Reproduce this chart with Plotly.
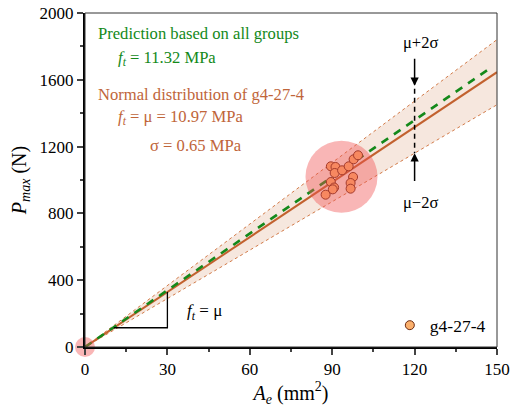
import numpy as np
import plotly.graph_objects as go

# ---------------- data ----------------
group_name = "g4-27-4"
Ae = [89.5, 91.2, 90.9, 93.6, 96.0, 97.8, 99.4, 97.6, 89.5, 96.7, 90.7, 90.2, 96.7, 87.6]
Pmax = [1082, 1078, 1042, 1058, 1082, 1124, 1148, 1018, 988, 982, 955, 944, 948, 912]
ft_all = 11.32   # MPa, prediction from all groups
mu = 10.97       # MPa
sigma = 0.65     # MPa
x_ticks = [0, 30, 60, 90, 120, 150]
y_ticks = [0, 400, 800, 1200, 1600, 2000]

FONT = "Liberation Serif, serif"
BROWN = "#C2612E"
BROWN_TXT = "#C0653A"
GREEN = "#14891A"

xs = np.linspace(0, 150, 151)
xs_g = np.linspace(0, 147, 148)
up = mu + 2 * sigma
lo = mu - 2 * sigma

fig = go.Figure()

# band
fig.add_trace(go.Scatter(x=xs, y=lo * xs, mode="lines",
                         line=dict(color="#D27A48", width=1, dash="3px,3px"),
                         showlegend=False, hoverinfo="skip"))
fig.add_trace(go.Scatter(x=xs, y=up * xs, mode="lines",
                         line=dict(color="#D27A48", width=1, dash="3px,3px"),
                         fill="tonexty", fillcolor="rgba(228,185,160,0.35)",
                         showlegend=False, hoverinfo="skip"))
# mean line
fig.add_trace(go.Scatter(x=xs, y=mu * xs, mode="lines",
                         line=dict(color=BROWN, width=2),
                         showlegend=False, hoverinfo="skip"))
# green prediction
fig.add_trace(go.Scatter(x=xs_g, y=ft_all * xs_g, mode="lines",
                         line=dict(color=GREEN, width=2.6, dash="8px,7px"),
                         showlegend=False, hoverinfo="skip"))

# slope triangle
tx0, tx1 = 10.5, 30
fig.add_trace(go.Scatter(x=[tx0, tx1, tx1], y=[mu * tx0, mu * tx0, mu * tx1],
                         mode="lines", line=dict(color="black", width=1.3),
                         showlegend=False, hoverinfo="skip"))

# data points
fig.add_trace(go.Scatter(x=Ae, y=Pmax, mode="markers", name=group_name,
                         marker=dict(size=9, color="#FBB06C",
                                     line=dict(color="#6E2A10", width=1))))

# highlight circles
fig.add_trace(go.Scatter(x=[float(np.mean(Ae))], y=[float(np.mean(Pmax)) - 6], mode="markers",
                         marker=dict(size=72, color="rgba(240,80,80,0.42)", line=dict(width=0)),
                         showlegend=False, hoverinfo="skip"))
fig.add_trace(go.Scatter(x=[0], y=[0], mode="markers", cliponaxis=False,
                         marker=dict(size=20, color="rgba(240,80,80,0.42)", line=dict(width=0)),
                         showlegend=False, hoverinfo="skip"))

# vertical dashed marker at x=120
xa = 120
fig.add_trace(go.Scatter(x=[xa, xa], y=[1600, lo * xa], mode="lines",
                         line=dict(color="black", width=1.5, dash="5px,4px"),
                         showlegend=False, hoverinfo="skip"))

ann = []
ann.append(dict(x=xa, y=1565, ax=xa, ay=1735, xref="x", yref="y", axref="x", ayref="y",
                showarrow=True, arrowhead=2, arrowsize=1.1, arrowwidth=1.5, arrowcolor="black", text=""))
ann.append(dict(x=xa, y=lo * xa, ax=xa, ay=985, xref="x", yref="y", axref="x", ayref="y",
                showarrow=True, arrowhead=2, arrowsize=1.1, arrowwidth=1.5, arrowcolor="black", text=""))
ann.append(dict(x=xa + 2, y=1825, xref="x", yref="y", text="μ+2σ", showarrow=False,
                font=dict(family=FONT, size=16.5, color="black")))
ann.append(dict(x=xa + 2, y=865, xref="x", yref="y", text="μ−2σ", showarrow=False,
                font=dict(family=FONT, size=16.5, color="black")))
ann.append(dict(x=43.5, y=210, xref="x", yref="y", text="<i>f</i><sub><i>t</i></sub> = μ",
                showarrow=False, font=dict(family=FONT, size=17, color="black")))

def paper_x(px):
    return (px - 85) / 412.5

def paper_y(py):
    return (346.7 - py) / 334.0

texts = [
    ("Prediction based on all groups", 96, 33.3, GREEN),
    (f"<i>f</i><sub><i>t</i></sub> = {ft_all:.2f} MPa", 116, 58.3, GREEN),
    (f"Normal distribution of {group_name}", 96, 94, BROWN_TXT),
    (f"<i>f</i><sub><i>t</i></sub> = μ = {mu:.2f} MPa", 116, 117, BROWN_TXT),
    (f"σ = {sigma:.2f} MPa", 148, 145, BROWN_TXT),
]
for t, px, py, c in texts:
    ann.append(dict(x=paper_x(px), y=paper_y(py), xref="paper", yref="paper",
                    xanchor="left", yanchor="middle", text=t, showarrow=False,
                    font=dict(family=FONT, size=16.6, color=c)))

fig.update_layout(
    width=512, height=411,
    margin=dict(l=85, r=14.5, t=12.7, b=64.3, autoexpand=False),
    paper_bgcolor="white", plot_bgcolor="white",
    font=dict(family=FONT, size=17, color="black"),
    annotations=ann,
    legend=dict(x=0.985, y=0.065, xanchor="right", yanchor="middle",
                bgcolor="rgba(0,0,0,0)", font=dict(family=FONT, size=17.5),
                itemwidth=30),
    shapes=[dict(type="rect", xref="x domain", yref="y domain", x0=0, x1=1, y0=0, y1=1,
                 line=dict(color="#333333", width=1), layer="above")],
)
fig.update_xaxes(range=[0, 150], tickvals=x_ticks, ticks="outside", ticklen=6, tickwidth=1.5,
                 showline=True, linewidth=2, linecolor="black", showgrid=False, zeroline=False,
                 automargin=False,
                 minor=dict(ticks="outside", ticklen=3, tickwidth=1.5, dtick=15, tick0=0, showgrid=False),
                 tickfont=dict(family=FONT, size=17),
                 title=dict(text="<i>A</i><sub><i>e</i></sub> (mm<sup>2</sup>)",
                            font=dict(family=FONT, size=20), standoff=6))
fig.update_yaxes(range=[0, 2000], tickvals=y_ticks, ticks="outside", ticklen=6, tickwidth=1.5,
                 showline=True, linewidth=2, linecolor="black", showgrid=False, zeroline=False,
                 automargin=False,
                 minor=dict(ticks="outside", ticklen=3, tickwidth=1.5, dtick=200, tick0=0, showgrid=False),
                 tickfont=dict(family=FONT, size=17),
                 title=dict(text="<i>P</i><sub><i>max</i></sub> (N)",
                            font=dict(family=FONT, size=20), standoff=8))

fig.write_html("out.html")
